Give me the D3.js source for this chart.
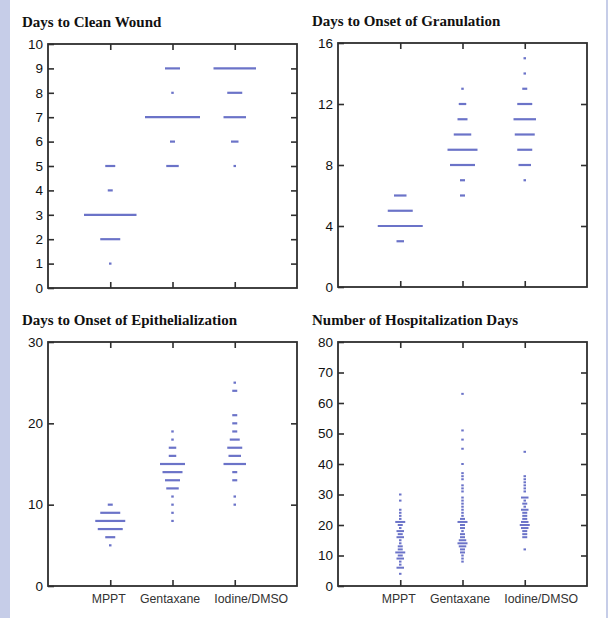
<!DOCTYPE html>
<html>
<head>
<meta charset="utf-8">
<script src="https://cdn.jsdelivr.net/npm/d3@7"></script>
<style>
	body{margin:0;background:#fff;}
</style>
</head>
<body>
<div id="chart"></div>
<script>
/* Data: [value in days, number of patients] per group */

var groups = ["MPPT", "Gentaxane", "Iodine/DMSO"];

var titles = ["Days to Clean Wound", "Days to Onset of Granulation",
	"Days to Onset of Epithelialization", "Number of Hospitalization Days"];

var cleanWound = [
	[[5,4],[4,2],[3,21],[2,8],[1,1]],
	[[9,6],[8,1],[7,22],[6,2],[5,5]],
	[[9,17],[8,6],[7,9],[6,3],[5,1]]
];
var cleanTicks = [0,1,2,3,4,5,6,7,8,9,10];

var granulation = [
	[[6,5],[5,10],[4,18],[3,3]],
	[[13,1],[12,3],[11,4],[10,7],[9,12],[8,10],[7,2],[6,2]],
	[[15,1],[14,1],[13,2],[12,6],[11,9],[10,8],[9,6],[8,5],[7,1]]
];
var granTicks = [0,4,8,12,16];

var epithelial = [
	[[10,2],[9,8],[8,12],[7,10],[6,4],[5,1]],
	[[19,1],[18,1],[17,3],[16,3],[15,10],[14,8],[13,6],[12,5],[11,1],[10,1],[9,1],[8,1]],
	[[25,1],[24,2],[21,2],[20,2],[19,2],[18,4],[17,6],[16,5],[15,9],[14,2],[13,2],[11,1],[10,1]]
];
var epiTicks = [0,10,20,30];

var hospital = [
	[[30,1],[28,1],[25,1],[24,1],[23,1],[22,1],[21,4],[20,2],[19,1],[18,3],[17,2],[16,3],
	 [15,1],[14,1],[13,2],[12,2],[11,4],[10,2],[9,3],[8,1],[7,1],[6,3],[4,1]],
	[[63,1],[51,1],[48,1],[45,1],[40,1],[37,1],[36,1],[35,1],[33,1],[32,1],[31,1],[29,1],
	 [28,1],[27,1],[26,1],[25,1],[24,1],[23,1],[22,2],[21,4],[20,2],[19,2],[18,1],[17,2],
	 [16,2],[15,3],[14,4],[13,3],[12,2],[11,2],[10,1],[9,1],[8,1]],
	[[44,1],[36,1],[35,1],[34,1],[33,1],[32,1],[31,1],[29,3],[28,1],[27,2],[26,1],[25,3],
	 [24,2],[23,2],[22,2],[21,3],[20,4],[19,3],[18,2],[17,2],[16,2],[12,1]]
];
var hospTicks = [0,10,20,30,40,50,60,70,80];

/* Layout */

var W = 249, H = 244;
var markColor = "#6b73c8";
var frameColor = "#2e2e2e";
var labelShift = [-2, -3, 16]; // category labels are not centred on ticks in the original

var panels = [
	{title: titles[0], data: cleanWound, ticks: cleanTicks, left: 48, top: 44, labels: false, lw: 2.2},
	{title: titles[1], data: granulation, ticks: granTicks, left: 338, top: 43, labels: false, lw: 2.2},
	{title: titles[2], data: epithelial, ticks: epiTicks, left: 48, top: 342, labels: true, lw: 2.2},
	{title: titles[3], data: hospital, ticks: hospTicks, left: 338, top: 342, labels: true, lw: 2}
];

var svg = d3.select("#chart")
	.append("svg")
	.attr("width", 608)
	.attr("height", 618);

//side strips of the page
svg.append("rect").attr("x",0).attr("y",0).attr("width",10).attr("height",618).attr("fill","#c6cde8");
svg.append("rect").attr("x",606).attr("y",0).attr("width",2).attr("height",618).attr("fill","#c6cde8");

var countWidth = d3.scaleLinear().domain([0,1]).range([0,2.5]);

var styleAxis = function(g){
	g.select(".domain").remove();
	g.selectAll(".tick line")
	.attr("stroke", frameColor)
	.attr("stroke-width", 1.6);
}

var drawPanel = function(p){
	var x = d3.scaleLinear().domain([0,4]).range([0,W]);
	var y = d3.scaleLinear().domain([0,p.ticks[p.ticks.length-1]]).range([H,0]);

	svg.append("text")
	.attr("x", p.left - 26)
	.attr("y", p.top - 17)
	.attr("font-family", "'Liberation Serif','Times New Roman',serif")
	.attr("font-weight", "bold")
	.attr("font-size", 15)
	.attr("fill", "#111")
	.text(p.title);

	var g = svg.append("g")
	.attr("transform", "translate(" + p.left + "," + p.top + ")");

	//marks: one dash per value, width by count
	p.data.forEach(function(rows, i){
		g.selectAll("line.mark" + i)
		.data(rows)
		.enter()
		.append("line")
		.attr("class", "mark" + i)
		.attr("x1", function(d){ return x(i+1) - countWidth(d[1])/2; })
		.attr("x2", function(d){ return x(i+1) + countWidth(d[1])/2; })
		.attr("y1", function(d){ return y(d[0]); })
		.attr("y2", function(d){ return y(d[0]); })
		.attr("stroke", markColor)
		.attr("stroke-width", p.lw);
	});

	var left = g.append("g")
	.call(d3.axisLeft(y).tickValues(p.ticks).tickSizeInner(-6).tickSizeOuter(0).tickPadding(5))
	.call(styleAxis);
	left.selectAll("text")
	.attr("font-family", "'Liberation Sans',Arial,sans-serif")
	.attr("font-size", 13.5)
	.attr("fill", "#111");

	g.append("g")
	.attr("transform", "translate(" + W + ",0)")
	.call(d3.axisRight(y).tickValues(p.ticks.slice(1, -1)).tickSizeInner(-6).tickSizeOuter(0).tickFormat(""))
	.call(styleAxis);

	g.append("g")
	.call(d3.axisTop(x).tickValues([1,2,3]).tickSizeInner(-6).tickSizeOuter(0).tickFormat(""))
	.call(styleAxis);

	var bottom = g.append("g")
	.attr("transform", "translate(0," + H + ")")
	.call(d3.axisBottom(x).tickValues([1,2,3]).tickSizeInner(-6).tickSizeOuter(0).tickPadding(8)
		.tickFormat(function(d){ return p.labels ? groups[d-1] : ""; }))
	.call(styleAxis);
	bottom.selectAll("text")
	.attr("dx", function(d){ return labelShift[d-1]; })
	.attr("font-family", "'Liberation Sans',Arial,sans-serif")
	.attr("font-size", 12.3)
	.attr("fill", "#333");

	g.append("rect")
	.attr("width", W)
	.attr("height", H)
	.attr("fill", "none")
	.attr("stroke", frameColor)
	.attr("stroke-width", 1.8);
}

panels.forEach(drawPanel);
</script>
</body>
</html>
